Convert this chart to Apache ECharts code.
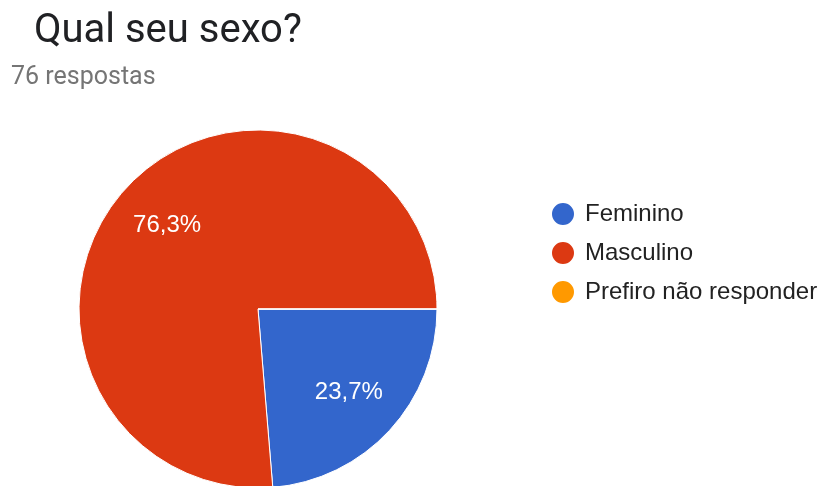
<!DOCTYPE html>
<html>
<head>
<meta charset="utf-8">
<script src="https://cdn.jsdelivr.net/npm/echarts@6/dist/echarts.min.js"></script>
<style>
  html, body { margin: 0; padding: 0; background: #fff; }
  #chart { width: 824px; height: 486px; }
</style>
</head>
<body>
<div id="chart"></div>
<script>
// Survey answers: "Qual seu sexo?"
const categories = ['Feminino', 'Masculino', 'Prefiro não responder'];
const counts = [18, 58, 0];
const colors = ['#3366cc', '#dc3912', '#ff9900'];

const total = counts.reduce((a, b) => a + b, 0);
const data = categories.map((name, i) => ({ name, value: counts[i] }));

const HEAD_FONT = 'Roboto, "Noto Sans", sans-serif';
const CHART_FONT = '"Liberation Sans", Arial, sans-serif';
const center = [258, 309];
const R = 179;

function pctLabel(p) {
  if (!p.value) return '';
  return (p.value / total * 100).toFixed(1).replace('.', ',') + '%';
}

const chart = echarts.init(document.getElementById('chart'), null, { renderer: 'canvas' });
chart.setOption({
  animation: false,
  color: colors,
  title: [
    {
      text: 'Qual seu sexo?',
      left: 29, top: 7,
      textStyle: { fontFamily: HEAD_FONT, fontSize: 40, fontWeight: 'normal', color: '#202124' }
    },
    {
      text: total + ' respostas',
      left: 6, top: 60,
      textStyle: { fontFamily: HEAD_FONT, fontSize: 25, fontWeight: 'normal', color: '#757575' }
    }
  ],
  legend: {
    orient: 'vertical',
    left: 545, top: 196,
    icon: 'circle',
    itemWidth: 24, itemHeight: 24,
    itemGap: 13,
    data: categories,
    textStyle: { fontFamily: CHART_FONT, fontSize: 24, color: '#222222', padding: [0, 0, 0, 5] }
  },
  series: [
    {
      type: 'pie',
      center: center,
      radius: [0, R],
      startAngle: 0,
      clockwise: true,
      data: data,
      itemStyle: { borderColor: '#ffffff', borderWidth: 1 },
      label: { show: false },
      labelLine: { show: false },
      emphasis: { disabled: true }
    },
    {
      // transparent ring used only to place the percentage labels
      type: 'pie',
      center: center,
      radius: [62, R],
      startAngle: 0,
      clockwise: true,
      data: data,
      silent: true,
      itemStyle: { color: 'rgba(0,0,0,0)', borderWidth: 0 },
      label: {
        show: true,
        position: 'inside',
        formatter: pctLabel,
        fontFamily: CHART_FONT,
        fontSize: 24,
        color: '#ffffff'
      },
      labelLine: { show: false },
      emphasis: { disabled: true }
    }
  ]
});
</script>
</body>
</html>
